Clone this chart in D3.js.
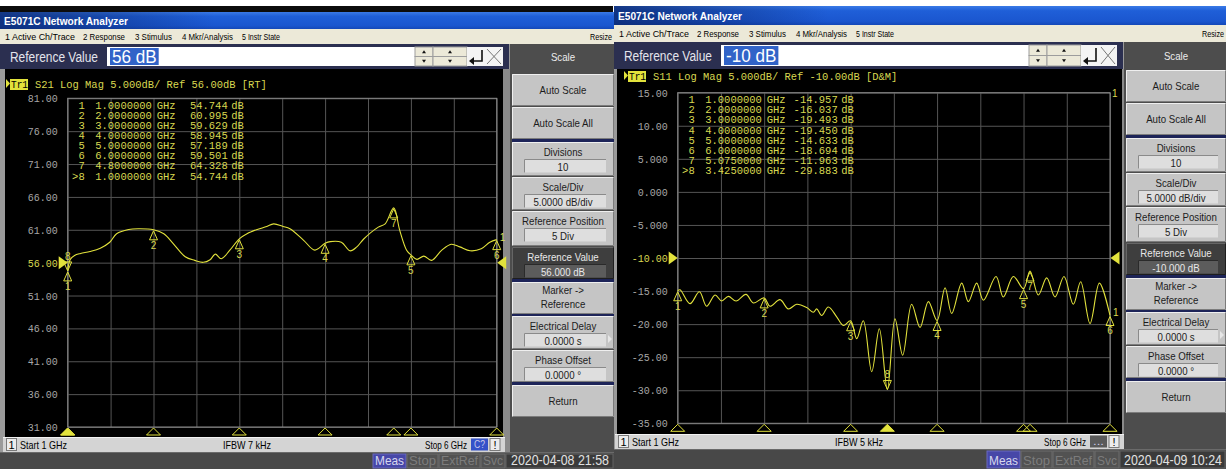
<!DOCTYPE html>
<html><head><meta charset="utf-8">
<script src="https://cdn.jsdelivr.net/npm/d3@7/dist/d3.min.js"></script>
<style>html,body{margin:0;padding:0;background:#fff;overflow:hidden}svg{display:block}</style>
</head><body>
<svg id="screen" width="1226" height="469"></svg>
<script>
// Two E5071C network analyzer screens: S21 transmission (left) and S11 reflection (right)

// ---------------- data ----------------
const menuItems = ["1 Active Ch/Trace", "2 Response", "3 Stimulus", "4 Mkr/Analysis", "5 Instr State"];
const statusItems = ["Meas", "Stop", "ExtRef", "Svc"];
const softkeyLabels = ["Auto Scale", "Auto Scale All", "Divisions", "Scale/Div", "Reference Position",
  "Reference Value", "Marker ->|Reference", "Electrical Delay", "Phase Offset", "Return"];
const s21SoftkeyValues = ["", "", "10", "5.0000 dB/div", "5 Div", "56.000 dB", "", "0.0000 s", "0.0000 °", ""];
const s11SoftkeyValues = ["", "", "10", "5.0000 dB/div", "5 Div", "-10.000 dB", "", "0.0000 s", "0.0000 °", ""];

const s21TickLabels = ["81.00", "76.00", "71.00", "66.00", "61.00", "56.00", "51.00", "46.00", "41.00", "36.00", "31.00"];
const s11TickLabels = ["15.00", "10.00", "5.000", "0.000", "-5.000", "-10.00", "-15.00", "-20.00", "-25.00", "-30.00", "-35.00"];

// S21 trace, 1–6 GHz
const s21FreqGHz = [1.00, 1.03, 1.08, 1.15, 1.26, 1.38, 1.49, 1.57, 1.71, 1.84, 2.00, 2.12, 2.23, 2.37, 2.48,
  2.58, 2.66, 2.72, 2.79, 2.89, 3.00, 3.09, 3.20, 3.32, 3.40, 3.51, 3.59, 3.75, 3.88, 4.00, 4.06, 4.19,
  4.29, 4.37, 4.45, 4.62, 4.70, 4.80, 4.87, 4.95, 5.00, 5.07, 5.15, 5.24, 5.36, 5.47, 5.57, 5.69, 5.82,
  5.92, 6.00];
const s21MagDb = [54.744, 56.5, 57.1, 57.4, 57.7, 58.2, 59.1, 60.4, 61.05, 61.15, 60.995, 60.4, 58.9, 56.9, 56.35,
  56.05, 56.45, 57.3, 56.6, 57.9, 59.629, 60.4, 61.0, 61.5, 61.9, 61.5, 61.15, 59.4, 57.9, 58.945, 59.2, 59.1,
  57.8, 58.4, 59.6, 61.4, 61.9, 64.328, 60.9, 57.9, 57.189, 56.5, 57.0, 56.35, 57.9, 58.8, 58.4, 57.8, 58.1,
  59.1, 59.501];
const s21MarkerIds = ["1", "2", "3", "4", "5", "6", "7", "8"];
const s21MarkerFreqGHz = [1, 2, 3, 4, 5, 6, 4.8, 1];
const s21MarkerDb = [54.744, 60.995, 59.629, 58.945, 57.189, 59.501, 64.328, 54.744];

// S11 trace, 1–6 GHz
const s11FreqGHz = [1.000, 1.027, 1.143, 1.251, 1.335, 1.432, 1.509, 1.586, 1.675, 1.790, 1.875, 2.000, 2.068,
  2.183, 2.280, 2.376, 2.492, 2.569, 2.608, 2.665, 2.742, 2.839, 2.916, 3.000, 3.070, 3.147, 3.244, 3.332,
  3.425, 3.513, 3.602, 3.706, 3.803, 3.899, 4.000, 4.092, 4.169, 4.285, 4.362, 4.458, 4.535, 4.682, 4.766,
  4.882, 5.000, 5.075, 5.171, 5.268, 5.364, 5.468, 5.576, 5.661, 5.769, 5.877, 6.000];
const s11MagDb = [-14.957, -14.8, -16.9, -15.1, -17.3, -15.6, -16.5, -15.8, -16.5, -15.5, -16.8, -16.037, -17.3,
  -16.3, -17.7, -17.0, -17.5, -18.2, -17.7, -18.7, -17.4, -18.9, -20.2, -19.493, -22.2, -19.5, -27.2, -20.7,
  -29.883, -19.2, -24.7, -17.0, -20.5, -16.6, -19.450, -14.5, -18.4, -13.8, -16.6, -13.8, -16.4, -12.8, -15.9,
  -12.8, -14.633, -11.963, -15.6, -13.0, -15.9, -12.8, -17.0, -13.6, -19.9, -13.8, -18.694];
const s11MarkerIds = ["1", "2", "3", "4", "5", "6", "7", "8"];
const s11MarkerFreqGHz = [1, 2, 3, 4, 5, 6, 5.075, 3.425];
const s11MarkerDb = [-14.957, -16.037, -19.493, -19.450, -14.633, -18.694, -11.963, -29.883];

// ---------------- layout ----------------
const W = 1226, H = 469;
const UI = "'Liberation Sans', Arial, sans-serif";
const MONO = "'Liberation Mono', 'DejaVu Sans Mono', monospace";
const YEL = "#e2e23c", YEL_TXT = "#d8d850", GRID = "#555555";

const panels = [
  {
    x0: 0, w: 614, strip: [6, 12], title: [12, 29], menu: [29, 44], ref: [44, 69],
    plot: [69, 437], start: [437, 452], status: [452, 469], plotL: 5, plotR: 503, keyDy: 4,
    grid: { l: 67.7, r: 496.7, t: 98.3, b: 427 }, hdrY: 88, hdrX: 35, tr1X: 10,
    yMin: 31, yMax: 81, refLevel: 56, ticks: s21TickLabels,
    entry: "56 dB", hdr: "S21 Log Mag 5.000dB/ Ref 56.00dB [RT]",
    freq: s21FreqGHz, mag: s21MagDb,
    mIds: s21MarkerIds, mFreq: s21MarkerFreqGHz, mDb: s21MarkerDb, active: 7,
    ifbw: "IFBW 7 kHz", chBox: "C?", chFill: "#3552c8", keys: s21SoftkeyValues,
    date: "2020-04-08 21:58", cornerTag: false
  },
  {
    x0: 614, w: 612, strip: null, title: [6, 25], menu: [25, 42], ref: [42, 69],
    plot: [69, 434], start: [434, 449], status: [449, 469], plotL: 3, plotR: 508, keyDy: 0,
    grid: { l: 677.7, r: 1110, t: 92.7, b: 423.3 }, hdrY: 80, hdrX: 39, tr1X: 14,
    yMin: -35, yMax: 15, refLevel: -10, ticks: s11TickLabels,
    entry: "-10 dB", hdr: "S11 Log Mag 5.000dB/ Ref -10.00dB [D&M]",
    freq: s11FreqGHz, mag: s11MagDb,
    mIds: s11MarkerIds, mFreq: s11MarkerFreqGHz, mDb: s11MarkerDb, active: 7,
    ifbw: "IFBW 5 kHz", chBox: "...", chFill: "#5a5a5a", keys: s11SoftkeyValues,
    date: "2020-04-09 10:24", cornerTag: true
  }
];

const keyRows = [[70, 102], [103, 135], [138, 172], [173, 206], [207, 242], [243, 275], [278, 310], [312, 345], [346, 378], [381, 413]];
const keySeps = [135, 275, 310, 378];
const menuX = [[5, 70], [83, 42], [135, 37], [182, 51], [242, 38]];
const statusX = [[373, 33], [407, 31], [439, 41], [481, 24]];

const svg = d3.select("#screen");
const defs = svg.append("defs");
const tb = defs.append("linearGradient").attr("id", "titleGrad").attr("x1", 0).attr("x2", 0).attr("y1", 0).attr("y2", 1);
tb.append("stop").attr("offset", 0).attr("stop-color", "#3a7ae6");
tb.append("stop").attr("offset", 0.25).attr("stop-color", "#1f5fd8");
tb.append("stop").attr("offset", 0.8).attr("stop-color", "#1a56cf");
tb.append("stop").attr("offset", 1).attr("stop-color", "#1448b8");
const tbh = defs.append("linearGradient").attr("id", "titleShade").attr("x1", 0).attr("x2", 1);
tbh.append("stop").attr("offset", 0).attr("stop-color", "#0a2466").attr("stop-opacity", 0.75);
tbh.append("stop").attr("offset", 0.35).attr("stop-color", "#0a2466").attr("stop-opacity", 0);

// text helper: `len` fixes the advance width, `sq` narrows the natural width, `max` caps it
function txt(g, x, y, s, o = {}) {
  const t = g.append("text").attr("x", x).attr("y", y).text(s)
    .attr("font-family", o.family || UI).attr("font-size", o.size || 11)
    .attr("fill", o.fill || "#000");
  if (o.anchor) t.attr("text-anchor", o.anchor);
  if (o.weight) t.attr("font-weight", o.weight);
  let L = null;
  if (o.len) L = o.len;
  else if (o.sq) L = t.node().getComputedTextLength() * o.sq;
  if (L !== null && o.max) L = Math.min(L, o.max);
  if (L !== null) t.attr("textLength", L).attr("lengthAdjust", "spacingAndGlyphs");
  t.datum({ width: L !== null ? L : t.node().getComputedTextLength() });
  return t;
}
function rect(g, x, y, w, h, fill, stroke) {
  const r = g.append("rect").attr("x", x).attr("y", y).attr("width", w).attr("height", h).attr("fill", fill);
  if (stroke) r.attr("stroke", stroke).attr("stroke-width", 1);
  return r;
}

function softkey(g, x0, x1, y0, y1, label, value, selected) {
  rect(g, x0, y0, x1 - x0, y1 - y0, selected ? "#3e3e3e" : "#c5c5c5");
  g.append("path").attr("d", `M${x0 + 0.5},${y1 - 0.5}V${y0 + 0.5}H${x1 - 0.5}`)
    .attr("stroke", selected ? "#666" : "#efefef").attr("fill", "none");
  g.append("path").attr("d", `M${x0 + 0.5},${y1 - 0.5}H${x1 - 0.5}V${y0 + 0.5}`)
    .attr("stroke", selected ? "#1e1e1e" : "#7c7c7c").attr("fill", "none");
  const cx = (x0 + x1) / 2, fg = selected ? "#e8e8e8" : "#1c1c1c";
  const o = { anchor: "middle", size: 11, fill: fg, sq: 0.88, max: x1 - x0 - 12 };
  const lines = label.split("|");
  if (value) {
    txt(g, cx, y0 + 14, label, o);
    const bx0 = x0 + 12, bx1 = x1 - 8;
    rect(g, bx0, y0 + 17.5, bx1 - bx0, 13, selected ? "#5c5c5c" : "#dedede");
    g.append("path").attr("d", `M${bx0 + 0.5},${y0 + 30.5}V${y0 + 17.5}H${bx1}`)
      .attr("stroke", selected ? "#2a2a2a" : "#8a8a8a").attr("fill", "none");
    txt(g, cx, y0 + 28.5, value, o);
  } else if (lines.length === 2) {
    txt(g, cx, y0 + 12, lines[0], o);
    txt(g, cx, y0 + 26, lines[1], o);
  } else {
    txt(g, cx, (y0 + y1) / 2 + 4, label, o);
  }
}

function drawPanel(p) {
  const g = svg.append("g");
  const x0 = p.x0, X = v => x0 + v, pr = Math.min(x0 + p.w, W);

  // window body
  rect(g, x0, p.title[0], pr - x0, H - p.title[0], "#9a9a9a");
  if (p.strip) rect(g, x0, p.strip[0], p.w - 1, p.strip[1] - p.strip[0], "#0c0c0c");

  // title bar
  rect(g, x0, p.title[0], pr - x0, p.title[1] - p.title[0], "url(#titleGrad)");
  rect(g, x0, p.title[0], pr - x0, p.title[1] - p.title[0], "url(#titleShade)");
  txt(g, X(4), (p.title[0] + p.title[1]) / 2 + 4, "E5071C Network Analyzer",
    { size: 11.5, weight: "bold", fill: "#fff", len: 124 });

  // menu bar
  rect(g, x0, p.menu[0], pr - x0, p.menu[1] - p.menu[0], "#ece9d8");
  const my = (p.menu[0] + p.menu[1]) / 2 + 3.5;
  menuItems.forEach((m, i) => txt(g, X(menuX[i][0]), my, m, { size: 9.5, len: menuX[i][1] }));
  txt(g, pr - 2, my, "Resize", { size: 9, len: 22, anchor: "end" });

  // reference-value entry bar
  const r0 = p.ref[0], r1 = p.ref[1], rc = (r0 + r1) / 2;
  rect(g, x0, r0, 509, r1 - r0, "#2b2f50");
  txt(g, X(10), rc + 5.5, "Reference Value", { size: 14, fill: "#e4e4ec", len: 88 });
  rect(g, X(107), r0 + 3, 308, r1 - r0 - 6, "#ffffff");
  const hl = g.append("rect");
  const ent = txt(g, X(112), rc + 6.5, p.entry, { size: 19, fill: "#fff", sq: 0.9 });
  hl.attr("x", X(110)).attr("y", r0 + 4).attr("width", ent.datum().width + 4)
    .attr("height", r1 - r0 - 8).attr("fill", "#3163c8");
  // spin buttons, enter and cancel glyphs
  const sy0 = r0 + 3, sh = r1 - r0 - 6;
  [[415, 18], [433, 34]].forEach(([bx, bw]) => {
    rect(g, X(bx), sy0, bw, sh / 2, "#ece9d8", "#9d9d9d");
    rect(g, X(bx), sy0 + sh / 2, bw, sh / 2, "#ece9d8", "#9d9d9d");
    const cx = X(bx + bw / 2);
    g.append("path").attr("d", `M${cx - 2},${sy0 + sh / 4 + 1.5}h4l-2,-3z`).attr("fill", "#111");
    g.append("path").attr("d", `M${cx - 2},${sy0 + 3 * sh / 4 - 1.5}h4l-2,3z`).attr("fill", "#111");
  });
  rect(g, X(467), sy0, 36, sh, "#f4f4f4");
  g.append("path").attr("d", `M${X(482)},${sy0 + 3}V${sy0 + sh - 5}H${X(472)}`)
    .attr("stroke", "#111").attr("stroke-width", 1.6).attr("fill", "none");
  g.append("path").attr("d", `M${X(469)},${sy0 + sh - 5}l5,-4v8z`).attr("fill", "#111");
  g.append("path").attr("d", `M${X(487)},${sy0 + 2}L${X(501)},${sy0 + sh - 2}M${X(501)},${sy0 + 2}L${X(487)},${sy0 + sh - 2}`)
    .attr("stroke", "#777").attr("stroke-width", 1);

  // softkey column
  const kx0 = X(510), kx1 = pr;
  rect(g, X(503), r1, 7, p.status[0] - r1, "#8a8a8a");
  rect(g, kx0, r0, kx1 - kx0, p.status[0] - r0, "#4d4d4d");
  txt(g, (kx0 + 2 + kx1) / 2, rc + 4, "Scale", { anchor: "middle", size: 11, fill: "#ececec", sq: 0.88 });
  keySeps.forEach(s => rect(g, kx0 + 2, s + p.keyDy, kx1 - kx0 - 2, 3, "#1d2458"));
  softkeyLabels.forEach((lab, i) => {
    const [a, b] = keyRows[i];
    softkey(g, kx0 + 2, kx1, a + p.keyDy, b + p.keyDy, lab, p.keys[i], i === 5);
  });
  // submenu arrow next to Electrical Delay
  const ed = keyRows[7][0] + p.keyDy;
  g.append("path").attr("d", `M${kx1 - 6},${ed + 19}l4,4l-4,4z`).attr("fill", "#e6e6e6");

  // measurement window
  const pl = X(p.plotL), prr = X(p.plotR);
  rect(g, pl, p.plot[0], prr - pl, p.plot[1] - p.plot[0], "#000");

  const gr = p.grid;
  const x = d3.scaleLinear().domain([1, 6]).range([gr.l, gr.r]);
  const y = d3.scaleLinear().domain([p.yMin, p.yMax]).range([gr.b, gr.t]);
  const tickVals = p.ticks.map(Number);

  // horizontal graticule + scale labels
  const ya = g.append("g").attr("transform", `translate(${gr.l},0)`)
    .call(d3.axisLeft(y).tickValues(tickVals).tickSize(-(gr.r - gr.l)).tickPadding(10)
      .tickFormat((d, i) => p.ticks[i]));
  ya.select(".domain").remove();
  ya.selectAll("line").attr("stroke", GRID);
  ya.selectAll("text").attr("font-family", MONO).attr("font-size", 10).attr("fill", "#a6a6a6")
    .attr("dy", "0.35em").filter(d => d === p.refLevel).attr("fill", YEL_TXT);

  // vertical graticule
  const xa = g.append("g").attr("transform", `translate(0,${gr.b})`)
    .call(d3.axisBottom(x).ticks(10).tickSize(-(gr.b - gr.t)).tickFormat(""));
  xa.select(".domain").remove();
  xa.selectAll("line").attr("stroke", GRID);
  rect(g, gr.l, gr.t, gr.r - gr.l, gr.b - gr.t, "none", "#8a8a8a");

  // channel header
  const hy = p.hdrY;
  g.append("path").attr("d", `M${X(p.tr1X - 4)},${hy - 9}l4,4.5l-4,4.5z`).attr("fill", YEL);
  rect(g, X(p.tr1X), hy - 9, 18, 11, YEL);
  txt(g, X(p.tr1X + 1), hy, "Tr1", { family: MONO, size: 10.5, fill: "#000", len: 17 });
  txt(g, X(p.hdrX), hy, p.hdr, { family: MONO, size: 10.45, fill: YEL_TXT });

  // marker readout table
  p.mIds.forEach((id, i) => {
    const ty = gr.t + 10.5 + i * 10.1;
    const lab = i === p.active ? ">" + id : id;
    const mo = { family: MONO, size: 10.5, fill: YEL_TXT };
    txt(g, gr.l + 17, ty, lab, { ...mo, anchor: "end" });
    txt(g, gr.l + 27.5, ty, p.mFreq[i].toFixed(7), mo);
    txt(g, gr.l + 89, ty, "GHz", mo);
    txt(g, gr.l + 160, ty, p.mDb[i].toFixed(3), { ...mo, anchor: "end" });
    txt(g, gr.l + 163.5, ty, "dB", mo);
  });

  // reference level pointers
  const yr = y(p.refLevel);
  g.append("path").attr("d", `M${gr.l - 9},${yr - 6.5}V${yr + 6.5}L${gr.l},${yr}z`).attr("fill", YEL);
  g.append("path").attr("d", `M${gr.r + 9.5},${yr - 6.5}V${yr + 6.5}L${gr.r + 0.5},${yr}z`).attr("fill", YEL);

  // trace
  const line = d3.line().x(d => x(d[0])).y(d => y(d[1])).curve(d3.curveCatmullRom.alpha(0.5));
  g.append("path").datum(d3.zip(p.freq, p.mag)).attr("d", line)
    .attr("fill", "none").attr("stroke", YEL).attr("stroke-width", 1.1);
  const last = p.mag[p.mag.length - 1];
  txt(g, gr.r + 3, y(last) + 1, "1", { size: 10, fill: YEL_TXT });
  if (p.cornerTag) txt(g, gr.r + 2, gr.t + 4, "1", { size: 10, fill: YEL_TXT });

  // markers on trace
  p.mIds.forEach((id, i) => {
    const mx = x(p.mFreq[i]), my2 = y(p.mDb[i]);
    if (i === p.active) {
      g.append("path").attr("d", `M${mx},${my2}L${mx - 4},${my2 - 9}H${mx + 4}z`)
        .attr("fill", "none").attr("stroke", YEL).attr("stroke-width", 1);
      txt(g, mx, my2 - 11, id, { size: 10, fill: YEL_TXT, anchor: "middle" });
    } else {
      g.append("path").attr("d", `M${mx},${my2 + 1}L${mx - 4},${my2 + 10}H${mx + 4}z`)
        .attr("fill", "none").attr("stroke", YEL).attr("stroke-width", 1);
      txt(g, mx, my2 + 19, id, { size: 10, fill: YEL_TXT, anchor: "middle" });
    }
  });

  // stimulus markers along the bottom edge
  p.mFreq.forEach((f, i) => {
    const mx = x(f);
    g.append("path").attr("d", `M${mx},${gr.b + 1}L${mx - 7},${gr.b + 8}H${mx + 7}z`)
      .attr("fill", i === p.active ? YEL : "none").attr("stroke", YEL).attr("stroke-width", 1);
  });

  // stimulus line
  const s0 = p.start[0], s1 = p.start[1], sc = (s0 + s1) / 2 + 4;
  rect(g, pl - 2, s0, prr - pl + 4, s1 - s0, "#d4d4d4");
  g.append("path").attr("d", `M${pl - 2},${s0 + 0.5}H${prr + 2}`).attr("stroke", "#f2f2f2");
  rect(g, pl + 1.5, s0 + 1.5, 10, s1 - s0 - 3, "#ececec", "#7a7a7a");
  txt(g, pl + 6.5, sc, "1", { size: 11, anchor: "middle" });
  txt(g, pl + 15, sc, "Start 1 GHz", { size: 11, len: 47 });
  txt(g, pl + 218, sc, p.ifbw, { size: 11, len: 48 });
  txt(g, prr - 36, sc, "Stop 6 GHz", { size: 11, len: 42, anchor: "end" });
  rect(g, prr - 32, s0 + 1.5, 17, s1 - s0 - 3, p.chFill);
  txt(g, prr - 23.5, sc - 0.5, p.chBox, { size: 10, anchor: "middle", fill: "#c8c8e8", len: 11 });
  rect(g, prr - 13, s0 + 1.5, 10, s1 - s0 - 3, "#ececec", "#7a7a7a");
  txt(g, prr - 8, sc, "!", { size: 11, anchor: "middle" });

  // instrument status bar
  const t0 = p.status[0];
  rect(g, x0, t0, pr - x0, H - t0, "#484848");
  g.append("path").attr("d", `M${x0},${t0 + 0.5}H${pr}`).attr("stroke", "#6a6a6a");
  statusItems.forEach((s, i) => {
    const [sx, sw] = statusX[i];
    rect(g, X(sx), t0 + 2, sw, H - t0 - 3, i === 0 ? "#4747a8" : "#525252", i === 0 ? "#6a6ac0" : "#6c6c6c");
    txt(g, X(sx + sw / 2), H - 4, s, { size: 13, anchor: "middle", fill: i === 0 ? "#d6d6ee" : "#7c7c7c", len: sw - 4 });
  });
  rect(g, X(506), t0 + 2, pr - X(506) - 1, H - t0 - 3, "#3a3a3a", "#626262");
  txt(g, (X(506) + pr) / 2, H - 4, p.date, { size: 14, anchor: "middle", fill: "#e2e2e2", len: 98 });
}

panels.forEach(drawPanel);
</script>
</body></html>
